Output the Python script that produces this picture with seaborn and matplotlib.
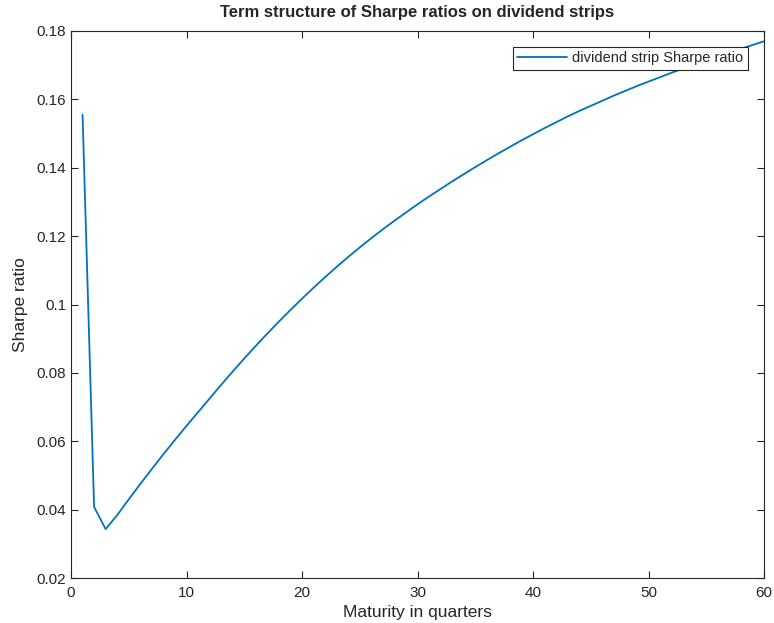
import numpy as np
import pandas as pd
import matplotlib
matplotlib.use("Agg")
import matplotlib.pyplot as plt
import seaborn as sns
from matplotlib.ticker import FuncFormatter

maturity = list(range(1, 61))
sharpe = [
    0.1555, 0.0408, 0.0343, 0.0384, 0.0430, 0.0475, 0.0519, 0.0562, 0.0604, 0.0645,
    0.0685, 0.0725, 0.0765, 0.0804, 0.0842, 0.0879, 0.0915, 0.0950, 0.0984, 0.1017,
    0.1049, 0.1080, 0.1110, 0.1139, 0.1167, 0.1194, 0.1220, 0.1245, 0.1269, 0.1293,
    0.1316, 0.1338, 0.1360, 0.1381, 0.1402, 0.1422, 0.1442, 0.1461, 0.1480, 0.1498,
    0.1516, 0.1533, 0.1550, 0.1566, 0.1581, 0.1596, 0.1611, 0.1625, 0.1639, 0.1652,
    0.1665, 0.1678, 0.1690, 0.1702, 0.1714, 0.1726, 0.1737, 0.1748, 0.1759, 0.1770,
]
series_label = "dividend strip Sharpe ratio"
xticks = [0, 10, 20, 30, 40, 50, 60]
yticks = [0.02, 0.04, 0.06, 0.08, 0.10, 0.12, 0.14, 0.16, 0.18]

df = pd.DataFrame({"Maturity": maturity, "Sharpe": sharpe, "series": series_label})

sns.set_style("ticks")
plt.rcParams["font.family"] = ["Liberation Sans", "DejaVu Sans"]

fig = plt.figure(figsize=(7.74, 6.23), dpi=100)
ax = fig.add_axes([71 / 774, 1 - 578 / 623, (764 - 71) / 774, (578 - 31) / 623])

sns.lineplot(data=df, x="Maturity", y="Sharpe", hue="series",
             palette=["#0072BD"], linewidth=1.3, ax=ax)

ax.set_xlim(0, 60)
ax.set_ylim(0.02, 0.18)
ax.set_xticks(xticks)
ax.set_yticks(yticks)
ax.yaxis.set_major_formatter(FuncFormatter(lambda v, p: f"{v:g}"))
ax.tick_params(direction="in", top=True, right=True, length=5, width=0.8,
               labelsize=11, colors="#262626")
ax.tick_params(axis="x", pad=6)
for s in ax.spines.values():
    s.set_visible(True)
    s.set_linewidth(0.8)
    s.set_color("#262626")

ax.set_xlabel("Maturity in quarters", fontsize=12.5, color="#262626", labelpad=3)
ax.set_ylabel("Sharpe ratio", fontsize=12.5, color="#262626", labelpad=6)
ax.set_title("Term structure of Sharpe ratios on dividend strips",
             fontsize=12, fontweight="bold", pad=10)

leg = ax.legend(loc="upper right", fontsize=10.5, frameon=True, fancybox=False,
                edgecolor="#262626", borderaxespad=1.1, handlelength=3.4,
                handletextpad=0.4, borderpad=0.3, framealpha=1)
leg.get_frame().set_linewidth(0.8)

fig.savefig("out.png", dpi=100)
